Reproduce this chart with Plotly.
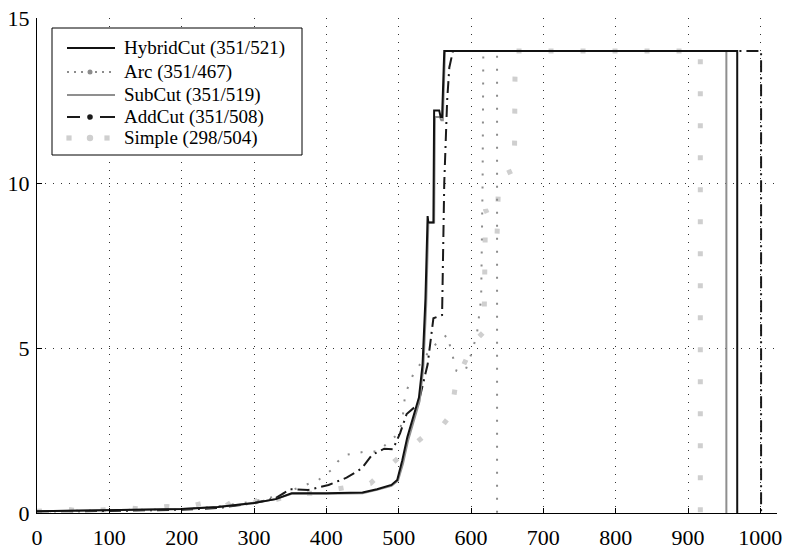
import plotly.graph_objects as go

# Breakpoints of each solver profile (x: instance rank, y: value)
hybrid_x = [0, 100, 200, 250, 300, 330, 352, 400, 450, 470, 490, 498, 505, 512, 520, 528, 533, 537,
            540, 541, 548, 549, 556, 558, 560, 563, 968, 968]
hybrid_y = [0.05, 0.08, 0.12, 0.18, 0.3, 0.42, 0.6, 0.6, 0.62, 0.72, 0.85, 1.0, 1.6, 2.3, 2.9, 3.5, 4.5, 6.5,
            9.0, 8.8, 8.8, 12.2, 12.2, 12.0, 12.0, 14.0, 14.0, 0.0]

subcut_x = [0, 100, 200, 250, 300, 330, 352, 400, 450, 470, 490, 499, 506, 513, 521, 529, 534, 538,
            541, 542, 549, 550, 557, 559, 561, 564, 953, 953]
subcut_y = [0.05, 0.08, 0.12, 0.18, 0.3, 0.42, 0.58, 0.58, 0.6, 0.7, 0.82, 0.98, 1.5, 2.2, 2.8, 3.4, 4.4, 6.3,
            8.8, 8.8, 8.8, 12.0, 12.0, 11.9, 11.9, 14.0, 14.0, 0.0]

addcut_x = [0, 100, 200, 250, 300, 330, 350, 375, 403, 428, 449, 463, 480, 492, 502, 511, 527, 532,
            540, 548, 560, 563, 567, 570, 575, 1001, 1001]
addcut_y = [0.05, 0.06, 0.1, 0.15, 0.3, 0.45, 0.72, 0.7, 0.85, 1.07, 1.35, 1.76, 1.95, 1.93, 2.42, 3.0, 3.3, 3.8,
            4.5, 5.9, 6.0, 10.0, 12.5, 13.5, 14.0, 14.0, 0.0]

arc_x = [0, 100, 200, 250, 300, 330, 366, 389, 408, 416, 426, 454, 472, 488, 500, 505, 509, 520,
         545, 567, 580, 592, 600, 608, 614, 616, 617, 636, 636]
arc_y = [0.05, 0.08, 0.12, 0.2, 0.35, 0.5, 0.8, 1.0, 1.32, 1.56, 1.76, 1.86, 1.86, 2.2, 2.4, 2.8, 3.6, 4.2,
         5.0, 5.4, 4.3, 4.3, 4.8, 5.4, 6.5, 10.0, 14.0, 14.0, 0.0]

simple_x = [0, 40, 60, 100, 130, 150, 180, 200, 240, 260, 280, 300, 320, 330, 359, 380, 421, 461,
            484, 513, 540, 556, 573, 578, 590, 605, 618, 620, 636, 638, 650, 660, 661, 917, 917]
simple_y = [0.05, 0.12, 0.05, 0.1, 0.15, 0.1, 0.2, 0.15, 0.35, 0.2, 0.5, 0.3, 0.7, 0.4, 0.6, 0.6, 0.75, 0.9,
            1.37, 1.9, 2.43, 2.53, 3.0, 3.8, 4.5, 5.2, 5.5, 9.2, 8.4, 10.0, 10.3, 10.4, 14.0, 14.0, 0.0]

legend_labels = ["HybridCut (351/521)", "Arc (351/467)", "SubCut (351/519)",
                 "AddCut (351/508)", "Simple (298/504)"]

# name -> (x, y, colour, width, dash)
series = {
    "Simple (298/504)": (simple_x, simple_y, "#cfcfcf", 5, "5px,27px"),
    "Arc (351/467)": (arc_x, arc_y, "#8c8c8c", 2, "2px,11px"),
    "AddCut (351/508)": (addcut_x, addcut_y, "#1a1a1a", 2, "12px,5px,2px,5px"),
    "SubCut (351/519)": (subcut_x, subcut_y, "#8f8f8f", 2, "solid"),
    "HybridCut (351/521)": (hybrid_x, hybrid_y, "#111111", 2, "solid"),
}

fig = go.Figure()
for name, (xs, ys, color, width, dash) in series.items():
    fig.add_trace(go.Scatter(x=xs, y=ys, mode="lines", name=name, showlegend=False,
                             line=dict(color=color, width=width, dash=dash)))

# ---- plot-area geometry (pixels) used to place the boxed legend ----
W, H = 786, 549
ML, MR, MT, MB = 37, 9, 18, 36
PW, PH = W - ML - MR, H - MT - MB


def px(x):
    return (x - ML) / PW


def py(y):
    return (H - MB - y) / PH


shapes = []
annotations = []
# legend frame
shapes.append(dict(type="rect", xref="paper", yref="paper",
                   x0=px(52), x1=px(302), y0=py(155), y1=py(28),
                   line=dict(color="black", width=1), fillcolor="white", layer="above"))

row_y = [48, 72, 95, 117, 138]
s0, s1, sc = 67, 115, 90   # sample start, end, centre


def seg(x0, x1, y, color, width, dash="solid"):
    shapes.append(dict(type="line", xref="paper", yref="paper",
                       x0=px(x0), x1=px(x1), y0=py(y), y1=py(y), layer="above",
                       line=dict(color=color, width=width, dash=dash)))


def dot(x, y, r, color, kind="circle"):
    shapes.append(dict(type=kind, xref="paper", yref="paper",
                       x0=px(x - r), x1=px(x + r), y0=py(y + r), y1=py(y - r), layer="above",
                       line=dict(width=0), fillcolor=color))


for label, y in zip(legend_labels, row_y):
    _, _, color, width, dash = series[label]
    if label.startswith("HybridCut") or label.startswith("SubCut"):
        seg(s0, s1, y, color, width)
    elif label.startswith("Arc"):
        seg(s0, s1, y, color, 2, "2px,5px")
        dot(sc, y, 2.5, color)
    elif label.startswith("AddCut"):
        seg(s0, 80, y, color, 2)
        seg(100, s1, y, color, 2)
        dot(sc, y, 2.8, color)
    else:
        dot(69, y, 2.6, color, "rect")
        dot(107, y, 2.6, color, "rect")
        dot(sc, y, 3.2, color)
    annotations.append(dict(xref="paper", yref="paper", x=px(122), y=py(y),
                            xanchor="left", yanchor="middle", showarrow=False,
                            text=label, font=dict(family="Liberation Serif", size=19, color="black")))

serif = "Liberation Serif"
axis_common = dict(
    showline=True, linecolor="black", linewidth=1, mirror=False,
    ticks="inside", ticklen=5, tickcolor="black", automargin=False,
    showgrid=True, gridcolor="#333333", gridwidth=1, griddash="1px,7px",
    zeroline=False, tickfont=dict(family=serif, size=22, color="black"),
)

fig.update_layout(
    width=W, height=H,
    margin=dict(l=ML, r=MR, t=MT, b=MB),
    font=dict(family=serif, color="black"),
    paper_bgcolor="white", plot_bgcolor="white",
    showlegend=False,
    xaxis=dict(range=[0, 1023], tickvals=list(range(0, 1001, 100)),
               ticklabelstandoff=5, **axis_common),
    yaxis=dict(range=[0, 15], tickvals=[0, 5, 10, 15], ticklabelstandoff=2, **axis_common),
    shapes=shapes, annotations=annotations,
)

fig.write_html("out.html")
